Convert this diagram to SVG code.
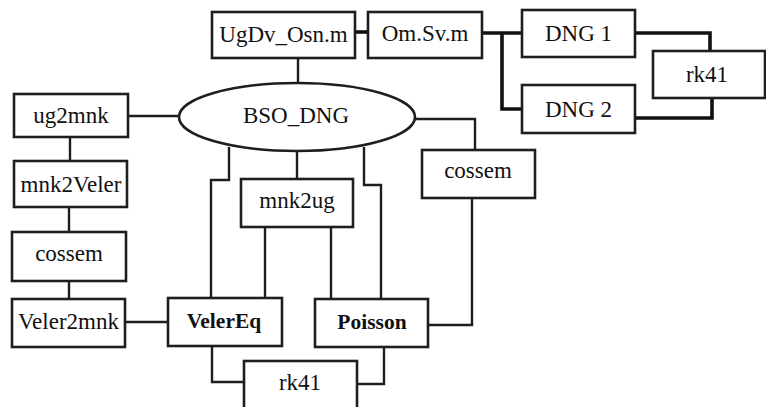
<svg xmlns="http://www.w3.org/2000/svg" width="766" height="407" viewBox="0 0 766 407">
  <style>
    .box { fill: #ffffff; stroke: #1e1e1e; stroke-width: 2.6; }
    .lbl { font-size: 23px; fill: #111; text-anchor: middle; }
    .bold { font-weight: bold; font-size: 21.5px; }
    .wire { fill: none; stroke: #1e1e1e; stroke-width: 2.4; }
    .thick { fill: none; stroke: #111; stroke-width: 3.6; }
  </style>
  <rect width="766" height="407" fill="#ffffff"/>

  <!-- connectors -->
  <g id="connectors">
    <path class="thick" d="M355 32 H368"/>
    <path class="thick" d="M482 33 H522 M502 33 V109 H522"/>
    <path class="thick" d="M635 33 H710 V51"/>
    <path class="thick" d="M635 118 H712 V98"/>
    <path class="wire" d="M298 58 V83"/>
    <path class="wire" d="M128 116 H179"/>
    <path class="wire" d="M70 137 V161"/>
    <path class="wire" d="M69 207 V232"/>
    <path class="wire" d="M69 281 V299"/>
    <path class="wire" d="M125 322 H168"/>
    <path class="wire" d="M415 119 H475 V150"/>
    <path class="wire" d="M472 198 V325 H428"/>
    <path class="wire" d="M229 147 V180 H211 V298"/>
    <path class="wire" d="M297 152 V179"/>
    <path class="wire" d="M364 147 V185 H381 V299"/>
    <path class="wire" d="M265 227 V298"/>
    <path class="wire" d="M331 227 V299"/>
    <path class="wire" d="M212 346 V382 H244"/>
    <path class="wire" d="M384 347 V384 H357"/>
  </g>

  <g id="nodes" font-family="Liberation Serif, Times New Roman, DejaVu Serif, serif">
    <g id="ugdv-osn">
      <rect class="box" x="212" y="12" width="143" height="46"/>
      <text class="lbl" x="283.5" y="42">UgDv_Osn.m</text>
    </g>
    <g id="om-sv">
      <rect class="box" x="368" y="12" width="114" height="46"/>
      <text class="lbl" x="425" y="41">Om.Sv.m</text>
    </g>
    <g id="dng1">
      <rect class="box" x="522" y="10" width="113" height="47"/>
      <text class="lbl" x="578.5" y="41">DNG 1</text>
    </g>
    <g id="dng2">
      <rect class="box" x="522" y="85" width="113" height="48"/>
      <text class="lbl" x="578.5" y="117">DNG 2</text>
    </g>
    <g id="rk41-top">
      <rect class="box" x="653" y="51" width="112" height="47"/>
      <text class="lbl" x="707" y="82">rk41</text>
    </g>
    <g id="bso-dng">
      <ellipse class="box" cx="297" cy="117" rx="118" ry="34"/>
      <text class="lbl" x="296" y="123">BSO_DNG</text>
    </g>
    <g id="ug2mnk">
      <rect class="box" x="14" y="94" width="114" height="43"/>
      <text class="lbl" x="71" y="123">ug2mnk</text>
    </g>
    <g id="mnk2veler">
      <rect class="box" x="14" y="161" width="113" height="46"/>
      <text class="lbl" x="71" y="192">mnk2Veler</text>
    </g>
    <g id="cossem-left">
      <rect class="box" x="12" y="232" width="114" height="49"/>
      <text class="lbl" x="69" y="261">cossem</text>
    </g>
    <g id="veler2mnk">
      <rect class="box" x="12" y="299" width="113" height="48"/>
      <text class="lbl" x="68.5" y="329">Veler2mnk</text>
    </g>
    <g id="mnk2ug">
      <rect class="box" x="241" y="179" width="112" height="48"/>
      <text class="lbl" x="297" y="208">mnk2ug</text>
    </g>
    <g id="cossem-right">
      <rect class="box" x="422" y="150" width="113" height="48"/>
      <text class="lbl" x="478" y="178">cossem</text>
    </g>
    <g id="velereq">
      <rect class="box" x="168" y="298" width="114" height="48"/>
      <text class="lbl bold" x="224" y="328">VelerEq</text>
    </g>
    <g id="poisson">
      <rect class="box" x="315" y="299" width="113" height="48"/>
      <text class="lbl bold" x="372" y="329">Poisson</text>
    </g>
    <g id="rk41-bottom">
      <rect class="box" x="244" y="361" width="113" height="50"/>
      <text class="lbl" x="300" y="390">rk41</text>
    </g>
  </g>
</svg>
